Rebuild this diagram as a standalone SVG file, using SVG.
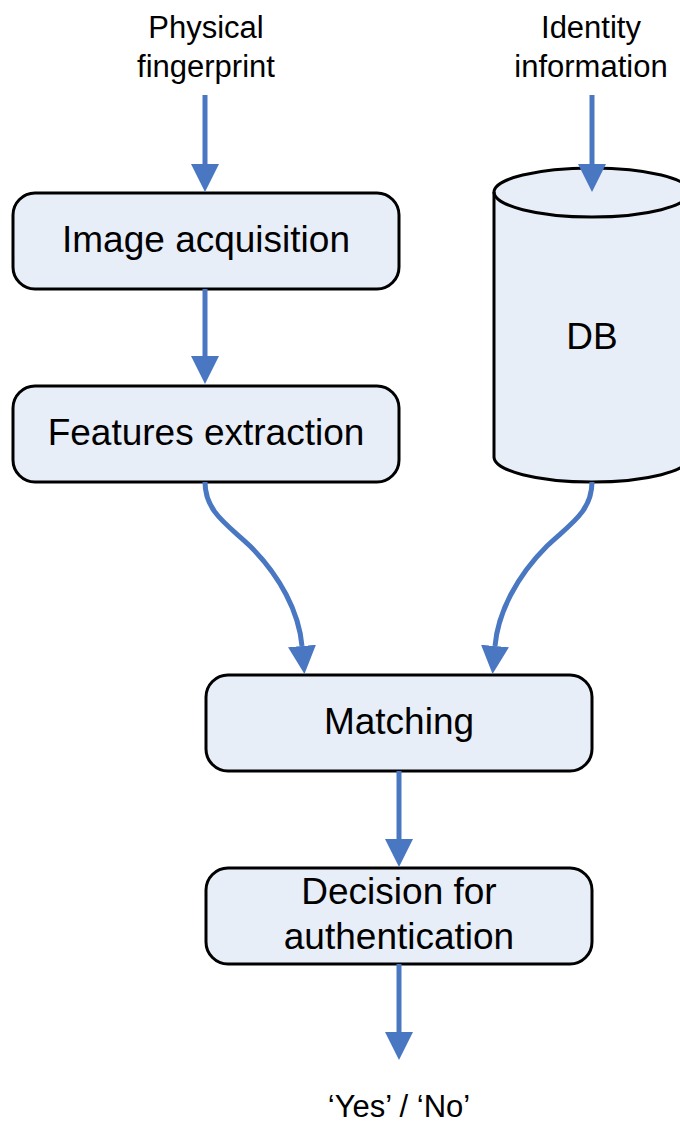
<svg xmlns="http://www.w3.org/2000/svg" width="680" height="1124" viewBox="0 0 680 1124">
  <defs>
    <style>
      .box { fill: #e8eef7; stroke: #000; stroke-width: 3; }
      .lbl { font-family: "Liberation Sans", Arial, sans-serif; font-size: 37px; fill: #000; text-anchor: middle; }
      .io { font-family: "Liberation Sans", Arial, sans-serif; font-size: 31px; fill: #000; text-anchor: middle; }
      .flow { fill: none; stroke: #4a77c1; stroke-width: 5; marker-end: url(#head); }
    </style>
    <marker id="head" viewBox="0 0 28 28" refX="0" refY="14" markerWidth="28" markerHeight="28" markerUnits="userSpaceOnUse" orient="auto">
      <path d="M0,0 L28,14 L0,28 Z" fill="#4a77c1"/>
    </marker>
  </defs>

  <rect width="680" height="1124" fill="#fff"/>

  <!-- input / output labels -->
  <g id="input-fingerprint">
    <text class="io" x="206" y="38">Physical</text>
    <text class="io" x="206" y="77">fingerprint</text>
  </g>
  <g id="input-identity">
    <text class="io" x="591" y="38">Identity</text>
    <text class="io" x="591" y="77">information</text>
  </g>

  <!-- process steps -->
  <g id="image-acquisition">
    <rect class="box" x="13" y="193" width="386" height="96" rx="22"/>
    <text class="lbl" x="206" y="252">Image acquisition</text>
  </g>
  <g id="features-extraction">
    <rect class="box" x="13" y="386" width="386" height="96" rx="22"/>
    <text class="lbl" x="206" y="445">Features extraction</text>
  </g>
  <g id="db">
    <path class="box" d="M494,192 A98,24 0 0 1 690,192 L690,457 A98,25 0 0 1 494,457 Z"/>
    <path d="M494,192 A98,25 0 0 0 690,192" fill="none" stroke="#000" stroke-width="3"/>
    <text class="lbl" x="592" y="349">DB</text>
  </g>
  <g id="matching">
    <rect class="box" x="206" y="675" width="386" height="96" rx="22"/>
    <text class="lbl" x="399" y="734">Matching</text>
  </g>
  <g id="decision">
    <rect class="box" x="206" y="868" width="386" height="96" rx="22"/>
    <text class="lbl" x="399" y="904">Decision for</text>
    <text class="lbl" x="399" y="949">authentication</text>
  </g>
  <g id="output-result">
    <text class="io" x="399" y="1117">‘Yes’ / ‘No’</text>
  </g>

  <!-- connectors -->
  <g id="connectors">
    <path class="flow" d="M205,95 L205,164"/>
    <path class="flow" d="M592,95 L592,164"/>
    <path class="flow" d="M205,289 L205,356"/>
    <path class="flow" d="M205,482 C205,512 228,525 250,546 C280,576 299,612 302,646"/>
    <path class="flow" d="M592,482 C592,512 569,525 547,546 C517,576 498,612 495,646"/>
    <path class="flow" d="M399,771 L399,839"/>
    <path class="flow" d="M399,964 L399,1032"/>
  </g>
</svg>
